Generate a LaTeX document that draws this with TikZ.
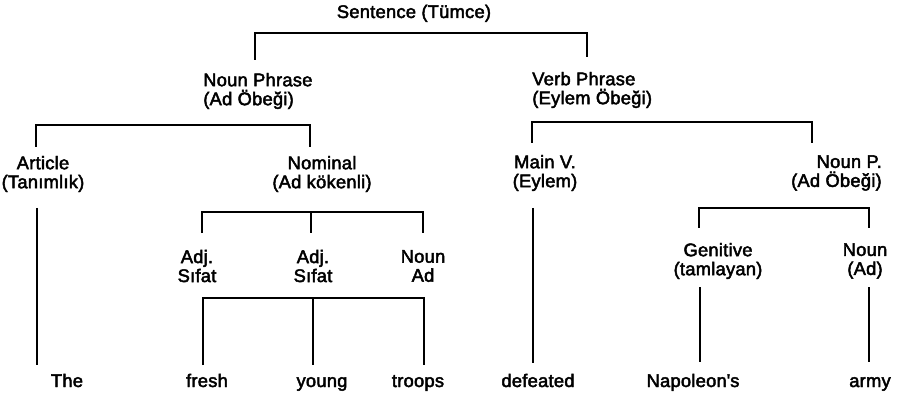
\documentclass[tikz,border=0pt]{standalone}
\usepackage{fontspec}
\setmainfont{Liberation Sans}[LetterSpace=1.5]
\begin{document}
\begin{tikzpicture}[x=0.025cm,y=-0.025cm,
                        br/.style={color=black,line width=1.8pt},
                        lbl/.style={inner sep=0pt,align=center,font=\fontsize{13}{13.5}\selectfont\addfontfeature{FakeBold=2.5}}]
                        \useasboundingbox (0,0) rectangle (901,400);
                        % sentence level
                        \node [lbl,anchor=base] (s) at (414,18) {Sentence (Tümce)};
                        \node [lbl,anchor=west,align=left] (np) at (203,91) {Noun Phrase\\(Ad Öbeği)};
                        \node [lbl,anchor=west,align=left] (vp) at (532,90) {Verb Phrase\\(Eylem Öbeği)};
                        % phrase level
                        \node [lbl] (art) at (43,174) {Article\\(Tanımlık)};
                        \node [lbl] (nom) at (322,174) {Nominal\\(Ad kökenli)};
                        \node [lbl] (mainv) at (545,173) {Main V.\\(Eylem)};
                        \node [lbl,anchor=east,align=right] (nounp) at (882,173) {Noun P.\\(Ad Öbeği)};
                        % word classes
                        \node [lbl] (adja) at (197,266) {Adj.\\Sıfat};
                        \node [lbl] (adjb) at (313,266) {Adj.\\Sıfat};
                        \node [lbl] (nouna) at (423,266) {Noun\\Ad};
                        \node [lbl] (gen) at (718,261) {Genitive\\(tamlayan)};
                        \node [lbl] (nounb) at (865,261) {Noun\\(Ad)};
                        % words
                        \node [lbl,anchor=base] (the) at (67,387) {The};
                        \node [lbl,anchor=base] (fresh) at (207,387) {fresh};
                        \node [lbl,anchor=base] (young) at (322,387) {young};
                        \node [lbl,anchor=base] (troops) at (418,387) {troops};
                        \node [lbl,anchor=base] (defeated) at (538,387) {defeated};
                        \node [lbl,anchor=base] (napoleons) at (693,387) {Napoleon\textquotesingle s};
                        \node [lbl,anchor=base] (army) at (870,387) {army};
                        % bracket ends
                        \coordinate (s-b) at (414,33);
                        \coordinate (np-t) at (255,60);
                        \coordinate (vp-t) at (587,57);
                        \coordinate (np-b) at (172,125);
                        \coordinate (art-t) at (36,147);
                        \coordinate (nom-t) at (310,147);
                        \coordinate (vp-b) at (672,122);
                        \coordinate (mainv-t) at (532,143);
                        \coordinate (nounp-t) at (812,143);
                        \coordinate (nom-b) at (311,212);
                        \coordinate (adja-t) at (202,233);
                        \coordinate (adjb-t) at (311,233);
                        \coordinate (nouna-t) at (423,233);
                        \coordinate (nounp-b) at (784,208);
                        \coordinate (gen-t) at (699,228);
                        \coordinate (nounb-t) at (869,228);
                        \coordinate (adj-b) at (313,298);
                        \coordinate (fresh-t) at (203,365);
                        \coordinate (young-t) at (313,365);
                        \coordinate (troops-t) at (424,365);
                        \coordinate (art-b) at (37,208);
                        \coordinate (the-t) at (37,365);
                        \coordinate (mainv-b) at (533,208);
                        \coordinate (defeated-t) at (533,363);
                        \coordinate (gen-b) at (700,287);
                        \coordinate (napoleons-t) at (700,362);
                        \coordinate (nounb-b) at (869,287);
                        \coordinate (army-t) at (869,362);
                        % brackets
                        \draw [br] (np-t) |- (s-b) -| (vp-t);
                        \draw [br] (art-t) |- (np-b) -| (nom-t);
                        \draw [br] (mainv-t) |- (vp-b) -| (nounp-t);
                        \draw [br] (adja-t) |- (nom-b) -| (nouna-t);
                        \draw [br] (nom-b) -- (adjb-t);
                        \draw [br] (gen-t) |- (nounp-b) -| (nounb-t);
                        \draw [br] (fresh-t) |- (adj-b) -| (troops-t);
                        \draw [br] (adj-b) -- (young-t);
                        % single lines
                        \draw [br] (art-b) -- (the-t);
                        \draw [br] (mainv-b) -- (defeated-t);
                        \draw [br] (gen-b) -- (napoleons-t);
                        \draw [br] (nounb-b) -- (army-t);
                    \end{tikzpicture}
\end{document}
